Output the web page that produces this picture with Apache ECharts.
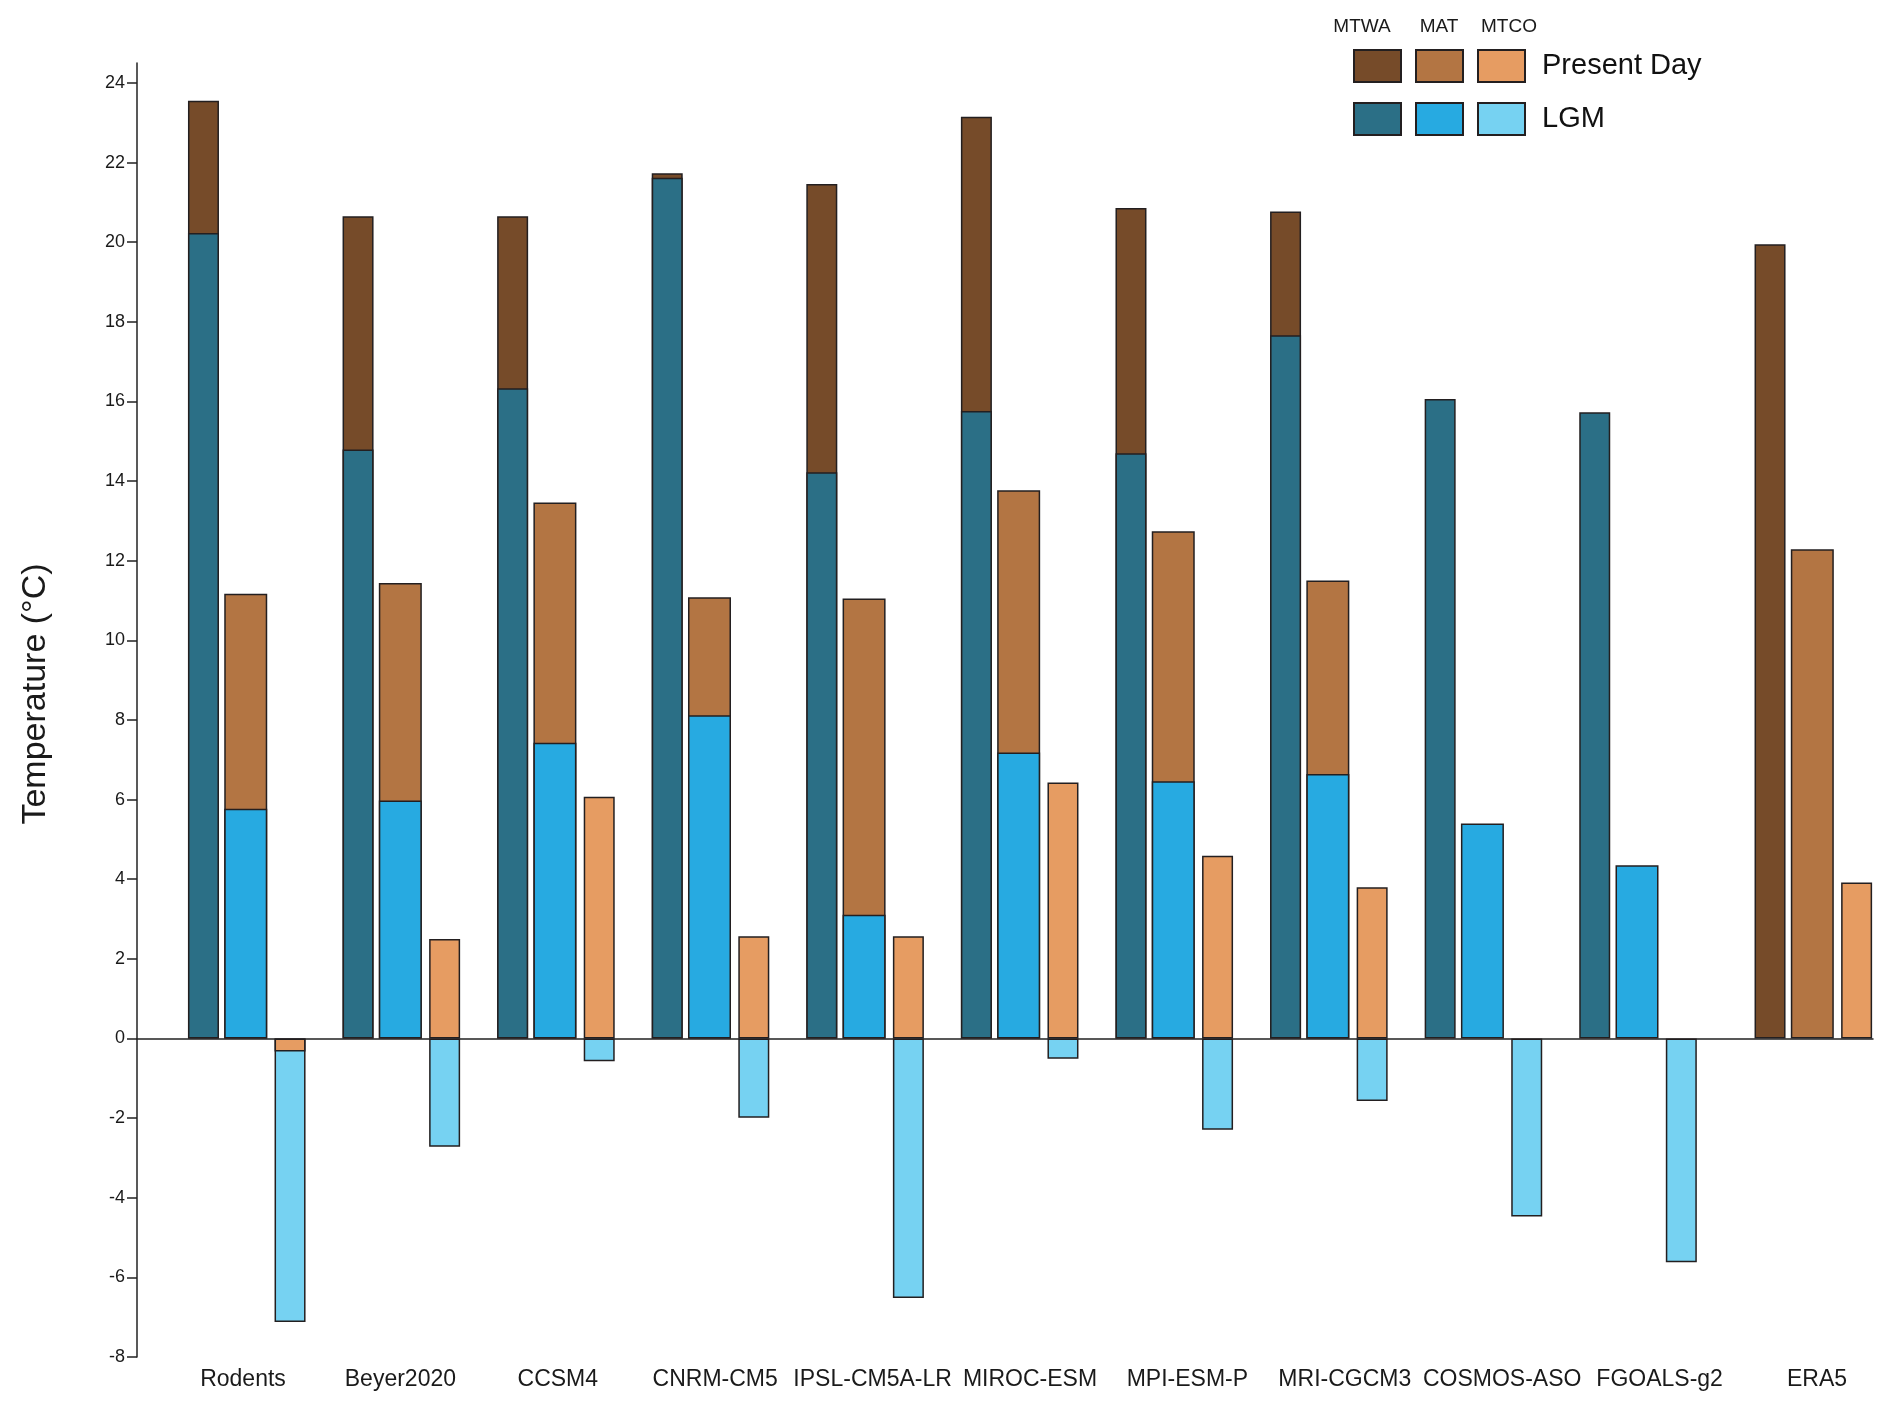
<!DOCTYPE html>
<html>
<head>
<meta charset="utf-8">
<script src="https://cdn.jsdelivr.net/npm/echarts@6/dist/echarts.min.js"></script>
<style>
html,body{margin:0;padding:0;background:#fff;}
#chart{width:1892px;height:1411px;}
</style>
</head>
<body>
<div id="chart"></div>
<script>
// ---- data ----
const categories = ['Rodents','Beyer2020','CCSM4','CNRM-CM5','IPSL-CM5A-LR','MIROC-ESM','MPI-ESM-P','MRI-CGCM3','COSMOS-ASO','FGOALS-g2','ERA5'];
const presentMTWA = [23.55, 20.65, 20.65, 21.73, 21.46, 23.15, 20.86, 20.77, null, null, 19.95];
const presentMAT  = [11.17, 11.44, 13.46, 11.08, 11.05, 13.77, 12.74, 11.50, null, null, 12.29];
const presentMTCO = [-0.33, 2.50, 6.07, 2.57, 2.57, 6.43, 4.59, 3.80, null, null, 3.92];
const lgmMTWA = [20.23, 14.79, 16.33, 21.62, 14.22, 15.76, 14.70, 17.66, 16.06, 15.73, null];
const lgmMAT  = [5.77, 5.98, 7.43, 8.12, 3.11, 7.18, 6.46, 6.64, 5.40, 4.35, null];
const lgmMTCO = [-7.12, -2.72, -0.57, -1.99, -6.52, -0.51, -2.29, -1.57, -4.47, -5.62, null];
const yTicks = [-8,-6,-4,-2,0,2,4,6,8,10,12,14,16,18,20,22,24];
const variableLabels = ['MTWA','MAT','MTCO'];
const periodLabels = ['Present Day','LGM'];

// ---- layout / style ----
const ERA5_EXTRA_GAP = 0.134; // extra spacing before the reanalysis group
const xPos = categories.map((c, i) => i + (c === 'ERA5' ? ERA5_EXTRA_GAP : 0));
const FONT = 'Liberation Sans, Arial, sans-serif';
const BORDER = '#231f20';
const colors = {
  pMTWA: '#764b29', pMAT: '#b37543', pMTCO: '#e69c62',
  lMTWA: '#2b6f86', lMAT: '#27aae1', lMTCO: '#76d2f2'
};
const widths = [31, 43, 31];

function mk(name, vals, xAxisIndex, color, width, z) {
  return {
    name: name, type: 'bar', xAxisIndex: xAxisIndex, yAxisIndex: 0,
    data: vals.map((v, i) => [xPos[i], v]),
    barWidth: width, barGap: '17%', z: z,
    itemStyle: { color: color, borderColor: BORDER, borderWidth: 1.5 },
    emphasis: { disabled: true }
  };
}
const pNames = ['Present MTWA','Present MAT','Present MTCO'];
const lNames = ['LGM MTWA','LGM MAT','LGM MTCO'];
const series = [
  mk(pNames[0], presentMTWA, 0, colors.pMTWA, widths[0], 2),
  mk(pNames[1], presentMAT, 0, colors.pMAT, widths[1], 2),
  mk(pNames[2], presentMTCO, 0, colors.pMTCO, widths[2], 4),
  mk(lNames[0], lgmMTWA, 1, colors.lMTWA, widths[0], 3),
  mk(lNames[1], lgmMAT, 1, colors.lMAT, widths[1], 3),
  mk(lNames[2], lgmMTCO, 1, colors.lMTCO, widths[2], 3)
];

const xMin = -0.71, xMax = 10.52;
const chart = echarts.init(document.getElementById('chart'));
chart.setOption({
  backgroundColor: '#ffffff',
  animation: false,
  grid: [
    { left: 137, right: 19, top: 63, bottom: 54 },
    { left: 243, right: 75, top: 63, bottom: 54 }
  ],
  xAxis: [
    { type: 'value', gridIndex: 0, min: xMin, max: xMax,
      axisLine: { show: true, onZero: true, lineStyle: { color: '#222', width: 1.5 } },
      axisTick: { show: false }, axisLabel: { show: false }, splitLine: { show: false } },
    { type: 'value', gridIndex: 0, min: xMin, max: xMax, show: false,
      axisLine: { show: false }, axisTick: { show: false }, axisLabel: { show: false }, splitLine: { show: false } },
    { type: 'category', gridIndex: 1, data: categories, boundaryGap: false, position: 'bottom',
      axisLine: { show: false, onZero: false }, axisTick: { show: false }, splitLine: { show: false },
      axisLabel: { fontFamily: FONT, fontSize: 23, color: '#1a1a1a', margin: 11, interval: 0 } }
  ],
  yAxis: [
    { type: 'value', gridIndex: 0, min: -8, max: 24.5, position: 'left',
      name: 'Temperature (°C)', nameLocation: 'middle', nameGap: 84,
      nameTextStyle: { fontFamily: FONT, fontSize: 34, color: '#1a1a1a', padding: [0, 0, 0, 32] },
      axisLine: { show: true, onZero: false, lineStyle: { color: '#222', width: 1.5 } },
      axisTick: { show: true, length: 10, lineStyle: { color: '#222', width: 1.5 }, customValues: yTicks },
      axisLabel: { fontFamily: FONT, fontSize: 18, color: '#1a1a1a', margin: 12, customValues: yTicks },
      splitLine: { show: false } },
    { type: 'value', gridIndex: 1, min: -8, max: 24.5, show: false,
      axisLine: { show: false, onZero: false }, axisTick: { show: false }, axisLabel: { show: false }, splitLine: { show: false } }
  ],
  legend: [
    { data: pNames, orient: 'horizontal', left: 1353, top: 49, padding: 0,
      itemWidth: 47, itemHeight: 32, itemGap: 13, icon: 'rect', selectedMode: false,
      formatter: n => n === pNames[2] ? '{t|' + periodLabels[0] + '}' : '',
      textStyle: { fontFamily: FONT, fontSize: 29, color: '#111',
        rich: { t: { fontFamily: FONT, fontSize: 29, color: '#111', padding: [0, 0, 0, 12] } } } },
    { data: lNames, orient: 'horizontal', left: 1353, top: 102, padding: 0,
      itemWidth: 47, itemHeight: 32, itemGap: 13, icon: 'rect', selectedMode: false,
      formatter: n => n === lNames[2] ? '{t|' + periodLabels[1] + '}' : '',
      textStyle: { fontFamily: FONT, fontSize: 29, color: '#111',
        rich: { t: { fontFamily: FONT, fontSize: 29, color: '#111', padding: [0, 0, 0, 12] } } } }
  ],
  graphic: variableLabels.map((t, i) => ({
    type: 'text', x: [1362, 1439, 1509][i], y: 27,
    style: { text: t, font: '19px ' + FONT, fill: '#1a1a1a', align: 'center', verticalAlign: 'middle' }
  })),
  series: series
});
</script>
</body>
</html>
